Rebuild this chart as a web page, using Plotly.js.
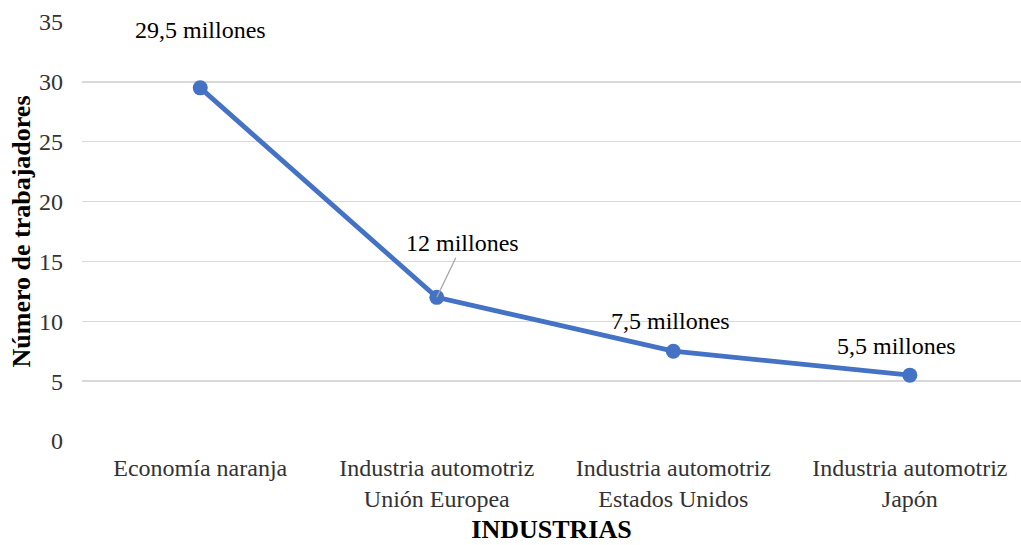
<!DOCTYPE html>
<html>
<head>
<meta charset="utf-8">
<script src="https://cdn.plot.ly/plotly-3.0.1.min.js"></script>
<style>html,body{margin:0;padding:0;background:#fff;}#chart{width:1021px;height:545px;}</style>
</head>
<body>
<div id="chart"></div>
<script>
var categories = ["Economía naranja", "Industria automotriz<br>Unión Europea", "Industria automotriz<br>Estados Unidos", "Industria automotriz<br>Japón"];
var workers = [29.5, 12, 7.5, 5.5];
var dataLabels = ["29,5 millones", "12 millones", "7,5 millones", "5,5 millones"];
var yTicks = [0, 5, 10, 15, 20, 25, 30, 35];

var FONT = "'Liberation Serif', 'Times New Roman', serif";

var trace = {
  x: [0, 1, 2, 3],
  y: workers,
  type: "scatter",
  mode: "lines+markers",
  line: {color: "#4472C4", width: 4.8},
  marker: {color: "#4472C4", size: 15},
  hoverinfo: "skip"
};

var shifts = [{x:0,y:58}, null, {x:-3,y:30}, {x:-13,y:29}];
var annotations = workers.map(function(v, i){
  var a = {x: i, y: v, xref: "x", yref: "y", text: dataLabels[i],
    font: {family: FONT, size: 24, color: "#000"}};
  if (shifts[i]) {
    a.showarrow = false; a.xshift = shifts[i].x; a.yshift = shifts[i].y;
  } else {
    a.showarrow = true; a.ax = 26; a.ay = -54; a.arrowhead = 0; a.arrowwidth = 1.3;
    a.arrowcolor = "#A6A6A6"; a.standoff = 0;
  }
  return a;
});

var layout = {
  width: 1021, height: 545,
  margin: {l: 82, r: 0, t: 22, b: 104},
  paper_bgcolor: "#fff", plot_bgcolor: "#fff",
  showlegend: false,
  font: {family: FONT, size: 24, color: "#333333"},
  xaxis: {
    range: [-0.5, 3.47],
    tickvals: [0, 1, 2, 3],
    ticktext: categories,
    showgrid: false, zeroline: false, showline: false,
    ticks: "", ticklabelstandoff: 10,
    tickfont: {family: FONT, size: 24, color: "#333333"},
    title: {text: "<b>INDUSTRIAS</b>", font: {family: FONT, size: 26, color: "#000"}, standoff: 8}
  },
  yaxis: {
    range: [0, 35],
    tickvals: yTicks,
    ticktext: yTicks.map(String),
    showgrid: true, gridcolor: "#D9D9D9", gridwidth: 1.3,
    zeroline: false, showline: false, ticks: "",
    tickfont: {family: FONT, size: 24, color: "#333333"},
    ticklabelstandoff: 18,
    title: {text: "<b>Número de trabajadores</b>", font: {family: FONT, size: 26, color: "#000"}, standoff: 0}
  },
  annotations: annotations
};

Plotly.newPlot("chart", [trace], layout, {displayModeBar: false, staticPlot: true});
</script>
</body>
</html>
